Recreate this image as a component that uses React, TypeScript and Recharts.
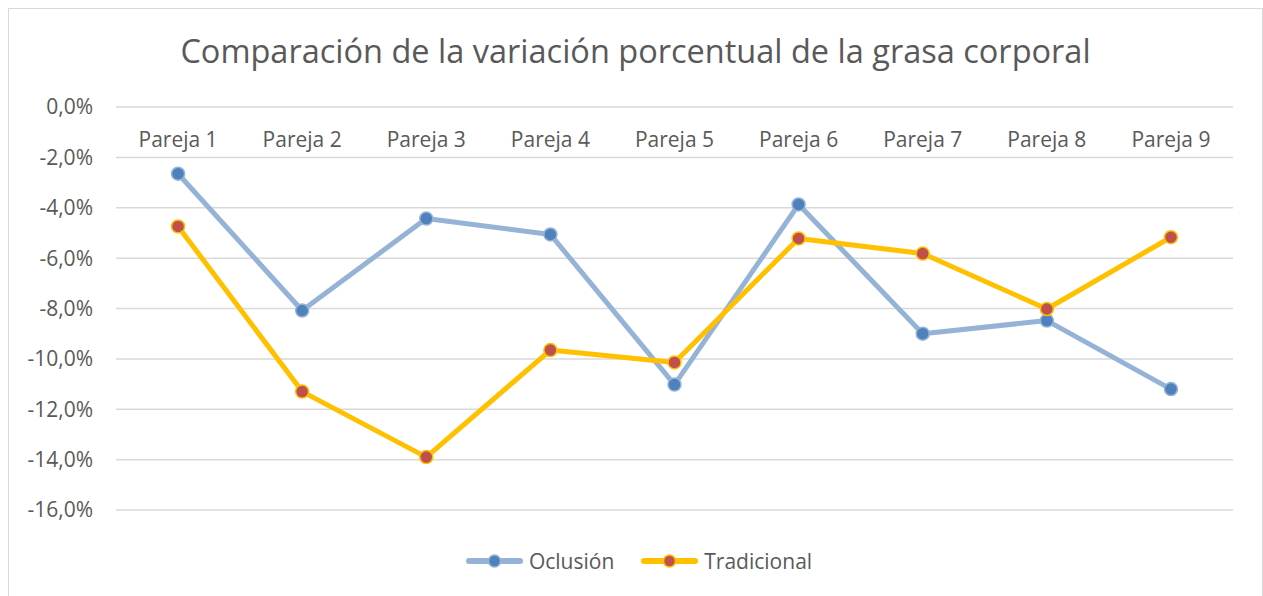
import { LineChart, Line, XAxis, YAxis, CartesianGrid, Legend } from 'recharts';

// categorías y valores (% de variación de grasa corporal)
const parejas = ['Pareja 1', 'Pareja 2', 'Pareja 3', 'Pareja 4', 'Pareja 5', 'Pareja 6', 'Pareja 7', 'Pareja 8', 'Pareja 9'];
const oclusion = [-2.65, -8.08, -4.43, -5.06, -11.02, -3.87, -9.0, -8.48, -11.2];
const tradicional = [-4.74, -11.3, -13.9, -9.65, -10.14, -5.22, -5.82, -8.02, -5.17];
const yTicks = [0, -2, -4, -6, -8, -10, -12, -14, -16];

const data = parejas.map((name, i) => ({ name, oclusion: oclusion[i], tradicional: tradicional[i] }));

const FONT = '"Open Sans", sans-serif';
const TEXT = '#595959';

const series = [
    { key: 'oclusion', name: 'Oclusión', line: '#95B3D7', dot: '#4F81BD' },
    { key: 'tradicional', name: 'Tradicional', line: '#FFC000', dot: '#C0504D' },
];

const fmt = (v: number) => `${v.toFixed(1).replace('.', ',')}%`;

const TopTick = (props: any) => {
    const { x, y, payload } = props;
    return (
        <text x={x} y={y + 40} textAnchor="middle" fill={TEXT} fontSize={21} fontFamily={FONT}>
            {payload.value}
        </text>
    );
};

const LegendContent = () => (
    <div
        style={{
            height: 69,
            boxSizing: 'border-box',
            display: 'flex',
            justifyContent: 'center',
            alignItems: 'flex-end',
            paddingBottom: 6,
            paddingLeft: 29,
            gap: 27,
            fontFamily: FONT,
            fontSize: 21,
            color: TEXT,
        }}
    >
        {series.map((s) => (
            <div key={s.key} style={{ display: 'flex', alignItems: 'center', gap: 6, height: 24 }}>
                <svg width={57} height={16}>
                    <line x1={3} y1={8} x2={54} y2={8} stroke={s.line} strokeWidth={6} strokeLinecap="round" />
                    <circle cx={28.5} cy={8} r={6} fill={s.dot} stroke={s.line} strokeWidth={1.5} />
                </svg>
                <span style={{ lineHeight: '24px' }}>{s.name}</span>
            </div>
        ))}
    </div>
);

export default function App() {
    return (
        <div
            style={{
                position: 'absolute',
                left: 8,
                top: 8,
                width: 1253,
                height: 590,
                border: '1px solid #d9d9d9',
                background: '#fff',
            }}
        >
            <div
                style={{
                    position: 'absolute',
                    top: 20,
                    left: 0,
                    width: '100%',
                    textAlign: 'center',
                    fontFamily: FONT,
                    fontSize: 32.5,
                    lineHeight: '44px',
                    color: TEXT,
                    whiteSpace: 'nowrap',
                }}
            >
                Comparación de la variación porcentual de la grasa corporal
            </div>
            <LineChart width={1253} height={588} data={data} margin={{ top: 68, right: 29, left: 7, bottom: 18 }}>
                <CartesianGrid vertical={false} stroke="#d9d9d9" strokeWidth={1.5} />
                <XAxis
                    dataKey="name"
                    orientation="top"
                    scale="band"
                    height={30}
                    tickSize={0}
                    tickMargin={0}
                    tickLine={false}
                    axisLine={false}
                    tick={<TopTick />}
                    interval={0}
                />
                <YAxis
                    domain={[-16, 0]}
                    ticks={yTicks}
                    width={100}
                    tickSize={0}
                    tickMargin={23}
                    tickLine={false}
                    axisLine={false}
                    tickFormatter={fmt}
                    tick={{ fill: TEXT, fontSize: 21, fontFamily: FONT }}
                />
                <Legend verticalAlign="bottom" height={69} content={<LegendContent />} />
                {series.map((s) => (
                    <Line
                        key={s.key}
                        dataKey={s.key}
                        name={s.name}
                        stroke={s.line}
                        strokeWidth={5}
                        strokeLinejoin="round"
                        dot={{ r: 6.5, fill: s.dot, stroke: s.line, strokeWidth: 1.5 }}
                        activeDot={false}
                        isAnimationActive={false}
                    />
                ))}
            </LineChart>
        </div>
    );
}
